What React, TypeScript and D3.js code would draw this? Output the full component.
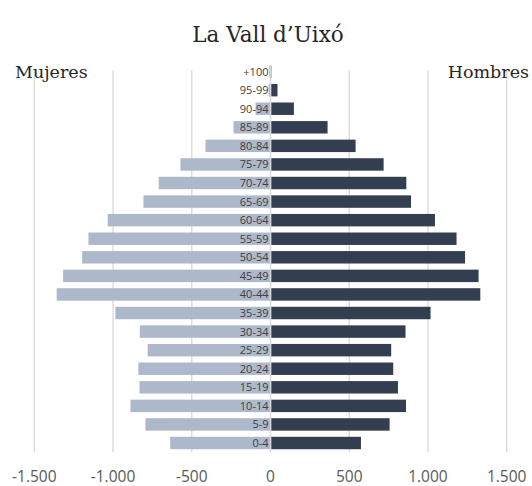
import { useRef, useEffect } from 'react';
import * as d3 from 'd3';

// Population pyramid, La Vall d'Uixó
const ageGroups = [
  '+100', '95-99', '90-94', '85-89', '80-84', '75-79', '70-74', '65-69', '60-64', '55-59',
  '50-54', '45-49', '40-44', '35-39', '30-34', '25-29', '20-24', '15-19', '10-14', '5-9', '0-4',
];
const mujeres = [8, 12, 95, 235, 413, 572, 710, 807, 1034, 1156, 1196, 1317, 1358, 985, 830, 780, 839, 832, 889, 794, 637];
const hombres = [2, 40, 144, 358, 536, 714, 858, 888, 1040, 1177, 1231, 1317, 1328, 1012, 853, 762, 775, 805, 856, 752, 570];
const xTicks = [-1500, -1000, -500, 0, 500, 1000, 1500];

const W = 532;
const H = 486;

export default function App() {
  const svgRef = useRef<SVGSVGElement>(null);

  useEffect(() => {
    const svg = d3.select(svgRef.current);
    svg.selectAll('*').remove();

    const x = d3.scaleLinear().domain([-1500, 1500]).range([34.3, 506.7]);
    const y = d3.scaleBand().domain(ageGroups).range([62.3, 452.3]).paddingInner(0.33).paddingOuter(0.165);

    // title
    svg.append('text')
      .attr('x', W / 2 + 2).attr('y', 42)
      .attr('text-anchor', 'middle')
      .attr('font-family', 'DejaVu Serif')
      .attr('font-size', 21.5)
      .attr('fill', '#262626')
      .text('La Vall d\u2019Uixó');

    // gridlines
    const gridTop = y.range()[0] + 8;
    svg.append('g')
      .selectAll('line')
      .data(xTicks)
      .join('line')
      .attr('x1', d => x(d)).attr('x2', d => x(d))
      .attr('y1', gridTop).attr('y2', y.range()[1])
      .attr('stroke', '#d9d9d9')
      .attr('stroke-width', 1.3);

    // side labels
    svg.append('text')
      .attr('x', 15).attr('y', 77.5)
      .attr('font-family', 'DejaVu Serif')
      .attr('font-size', 17.5)
      .attr('fill', '#262626')
      .text('Mujeres');

    svg.append('text')
      .attr('x', 529).attr('y', 77.5)
      .attr('text-anchor', 'end')
      .attr('font-family', 'DejaVu Serif')
      .attr('font-size', 17.5)
      .attr('fill', '#262626')
      .text('Hombres');

    // bars
    svg.append('g')
      .selectAll('rect')
      .data(ageGroups)
      .join('rect')
      .attr('x', (d, i) => x(-mujeres[i]))
      .attr('y', d => y(d) as number)
      .attr('width', (d, i) => x(0) - x(-mujeres[i]))
      .attr('height', y.bandwidth())
      .attr('fill', '#adb9ca');

    svg.append('g')
      .selectAll('rect')
      .data(ageGroups)
      .join('rect')
      .attr('x', x(0) + 0.7)
      .attr('y', d => y(d) as number)
      .attr('width', (d, i) => x(hombres[i]) - x(0))
      .attr('height', y.bandwidth())
      .attr('fill', '#333f50');

    // zero line over bars
    svg.append('line')
      .attr('x1', x(0)).attr('x2', x(0))
      .attr('y1', gridTop).attr('y2', y.range()[1])
      .attr('stroke', '#d9d9d9')
      .attr('stroke-width', 1.3);

    // category labels
    svg.append('g')
      .selectAll('text')
      .data(ageGroups)
      .join('text')
      .attr('x', x(0) - 2)
      .attr('y', d => (y(d) as number) + y.bandwidth() / 2)
      .attr('dy', '0.36em')
      .attr('text-anchor', 'end')
      .attr('font-family', 'Open Sans')
      .attr('font-size', 11)
      .attr('fill', '#404040')
      .text(d => d);

    // x axis labels
    const fmt = (v: number) => (v < 0 ? '-' : '') + d3.format(',')(Math.abs(v)).replace(/,/g, '.');
    svg.append('g')
      .selectAll('text')
      .data(xTicks)
      .join('text')
      .attr('x', d => x(d))
      .attr('y', 481.5)
      .attr('text-anchor', 'middle')
      .attr('font-family', 'Open Sans')
      .attr('font-size', 15.5)
      .attr('fill', '#595959')
      .text(d => fmt(d));
  }, []);

  return (
    <svg
      ref={svgRef}
      width={W}
      height={H}
      style={{ position: 'absolute', left: 0, top: 0, background: '#fff' }}
    />
  );
}
